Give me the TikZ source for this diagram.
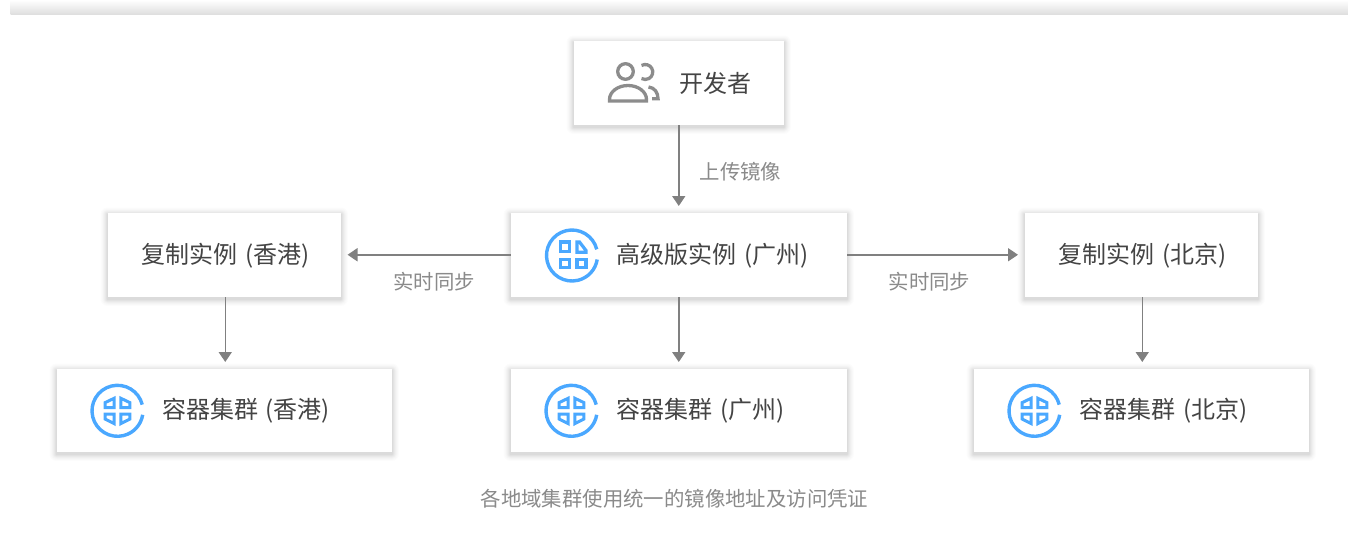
\documentclass[tikz,border=0pt]{standalone}
\usepackage{fontspec}
\setmainfont{Noto Sans CJK SC}
\usetikzlibrary{arrows.meta}
\definecolor{iconblue}{HTML}{4AA8FF}
\definecolor{txt}{HTML}{444444}
\definecolor{lbl}{HTML}{8A8A8A}
\definecolor{conn}{HTML}{808080}
\definecolor{persona}{HTML}{8C8C8C}
\tikzset{
  x=1pt,y=-1pt,
  card/.style={fill=white,inner sep=0pt,outer sep=0pt},
  title/.style={font=\fontsize{24}{24}\selectfont,text=txt,inner sep=0pt,anchor=center},
  lab/.style={font=\fontsize{20.4}{20.4}\selectfont,text=lbl,inner sep=0pt,anchor=center},
  link/.style={draw=conn,line width=1.5pt,-{Triangle[length=10pt,width=13pt]},shorten >=6.5pt},
  ring/.style={draw=iconblue,line width=3.4pt},
  glyph/.style={draw=iconblue,line width=3.2pt,line join=miter},
  clusterglyph/.style={draw=iconblue,line width=3pt,line join=miter},
  personline/.style={draw=persona,line width=3.3pt,line cap=butt},
}
\newcommand{\wgap}{\hspace{7.5pt}}
% \cardbox{name}{x1}{y1}{x2}{y2}
\newcommand{\cardbox}[5]{%
  \foreach \g/\o in {7/.010,6/.012,5/.015,4/.018,3/.022,2/.026,1/.03}{%
    \fill[black,opacity=\o,rounded corners=\g pt] (#2-\g,#3-\g+2) rectangle (#4-0.5+\g,#5-0.5+\g+2);}%
  \node[card,minimum width=#4-#2-0.5,minimum height=#5-#3-0.5] (#1) at ({(#2+#4-0.5)/2},{(#3+#5-0.5)/2}) {};}
\newcommand{\advicon}[2]{%
  \begin{scope}[shift={(#1,#2)}]
    \draw[ring] (14:25.5pt) arc[start angle=14,end angle=351,radius=25.5pt];
    \draw[glyph] (-11.2,-13.5) rectangle (-2.5,-4.2);
    \draw[glyph] (5,-13.5) -- (7.5,-13.5) -- (14,-5) -- (14,-3.2) -- (5,-3.2) -- cycle;
    \draw[glyph] (-11.2,3.8) rectangle (-2.5,12.2);
    \draw[glyph] (5,3.8) rectangle (14,12.2);
  \end{scope}}
\newcommand{\clustericon}[2]{%
  \begin{scope}[shift={(#1,#2)}]
    \draw[ring] (14:25.5pt) arc[start angle=14,end angle=351,radius=25.5pt];
    \foreach \sx in {-1,1}{
      \draw[clusterglyph] (\sx*3.4,-12.5) -- (\sx*3.4,-3.2) -- (\sx*12.4,-3.2) -- (\sx*12.4,-8.2) -- cycle;
      \draw[clusterglyph] (\sx*3.4,3.4) -- (\sx*12.4,3.4) -- (\sx*12.4,8.2) -- (\sx*3.4,12.8) -- cycle;
    }
  \end{scope}}
\begin{document}
\begin{tikzpicture}
\useasboundingbox (-0.5,-0.5) rectangle (1347.5,548.5);
\fill[white] (-0.5,-0.5) rectangle (1347.5,548.5);
\shade[top color=white,bottom color=black!13] (10,-0.5) rectangle (1347.5,14);
\cardbox{dev}{573}{40}{784}{125}
\cardbox{adv}{510}{212}{847}{297}
\cardbox{hk}{107}{212}{341}{297}
\cardbox{bj}{1024}{212}{1258}{297}
\cardbox{chk}{56}{368}{392}{452}
\cardbox{cgz}{510}{368}{847}{452}
\cardbox{cbj}{973}{368}{1309}{452}
% developer icon
\draw[personline] (625,71) circle[radius=7.8pt];
\draw[personline] (641,65) arc[start angle=120,end angle=-120,radius=7.5pt];
\draw[personline] (609,100.5) -- (609,99) arc[start angle=180,end angle=0,x radius=18.5pt,y radius=14pt] -- (646,100.5) -- cycle;
\draw[personline] (648,86.5) .. controls (654,87) and (657.5,92) .. (657.5,98.2) -- (651.5,98.2);
\advicon{571.5}{255}
\clustericon{117}{410.3}
\clustericon{571}{410.3}
\clustericon{1034}{410.3}
\node[title] (tdev) at (714.5,83) {开发者};
\node[title] (tadv) at (712,255.5) {高级版实例\wgap(广州)};
\node[title] (thk) at (225,255.5) {复制实例\wgap(香港)};
\node[title] (tbj) at (1142,255.5) {复制实例\wgap(北京)};
\node[title] (tchk) at (245.5,410.5) {容器集群\wgap(香港)};
\node[title] (tcgz) at (700,410.5) {容器集群\wgap(广州)};
\node[title] (tcbj) at (1163,410.5) {容器集群\wgap(北京)};
\node[lab] (l1) at (740,171) {上传镜像};
\node[lab] (l2) at (433.5,281) {实时同步};
\node[lab] (l3) at (929,281) {实时同步};
\node[lab] (l4) at (674,498) {各地域集群使用统一的镜像地址及访问凭证};
\draw[link] (dev) -- (adv);
\draw[link] (adv) -- (hk);
\draw[link] (adv) -- (bj);
\draw[link] ([xshift=1pt]hk.south) -- ([xshift=1pt]hk.south |- chk.north);
\draw[link] (adv) -- (cgz);
\draw[link] ([xshift=1pt]bj.south) -- ([xshift=1pt]bj.south |- cbj.north);
\end{tikzpicture}
\end{document}
